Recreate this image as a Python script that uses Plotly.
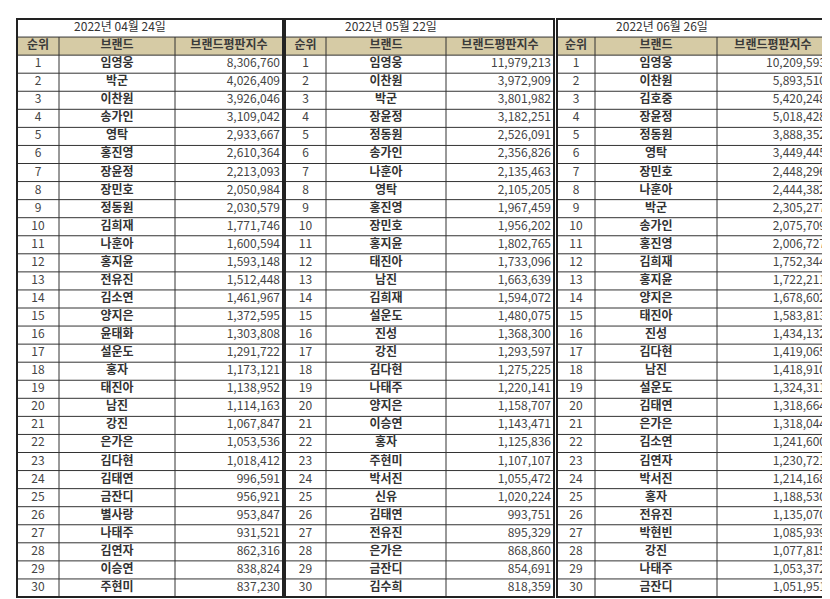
import plotly.graph_objects as go

dates = ["2022년 04월 24일", "2022년 05월 22일", "2022년 06월 26일"]
ranks = list(range(1, 31))
columns = ["순위", "브랜드", "브랜드평판지수"]

brands_0424 = ["임영웅", "박군", "이찬원", "송가인", "영탁", "홍진영", "장윤정", "장민호", "정동원", "김희재",
               "나훈아", "홍지윤", "전유진", "김소연", "양지은", "윤태화", "설운도", "홍자", "태진아", "남진",
               "강진", "은가은", "김다현", "김태연", "금잔디", "별사랑", "나태주", "김연자", "이승연", "주현미"]
scores_0424 = [8306760, 4026409, 3926046, 3109042, 2933667, 2610364, 2213093, 2050984, 2030579, 1771746,
               1600594, 1593148, 1512448, 1461967, 1372595, 1303808, 1291722, 1173121, 1138952, 1114163,
               1067847, 1053536, 1018412, 996591, 956921, 953847, 931521, 862316, 838824, 837230]

brands_0522 = ["임영웅", "이찬원", "박군", "장윤정", "정동원", "송가인", "나훈아", "영탁", "홍진영", "장민호",
               "홍지윤", "태진아", "남진", "김희재", "설운도", "진성", "강진", "김다현", "나태주", "양지은",
               "이승연", "홍자", "주현미", "박서진", "신유", "김태연", "전유진", "은가은", "금잔디", "김수희"]
scores_0522 = [11979213, 3972909, 3801982, 3182251, 2526091, 2356826, 2135463, 2105205, 1967459, 1956202,
               1802765, 1733096, 1663639, 1594072, 1480075, 1368300, 1293597, 1275225, 1220141, 1158707,
               1143471, 1125836, 1107107, 1055472, 1020224, 993751, 895329, 868860, 854691, 818359]

brands_0626 = ["임영웅", "이찬원", "김호중", "장윤정", "정동원", "영탁", "장민호", "나훈아", "박군", "송가인",
               "홍진영", "김희재", "홍지윤", "양지은", "태진아", "진성", "김다현", "남진", "설운도", "김태연",
               "은가은", "김소연", "김연자", "박서진", "홍자", "전유진", "박현빈", "강진", "나태주", "금잔디"]
scores_0626 = [10209593, 5893510, 5420248, 5018428, 3888352, 3449445, 2448296, 2444382, 2305277, 2075709,
               2006727, 1752344, 1722211, 1678602, 1583813, 1434132, 1419065, 1418910, 1324311, 1318664,
               1318044, 1241600, 1230721, 1214168, 1188530, 1135070, 1085939, 1077815, 1053372, 1051951]

W, H = 830, 599
# column edges of each table in pixels, and centre of the date label
blocks = [
    (brands_0424, scores_0424, [9, 51, 167, 275], 112),
    (brands_0522, scores_0522, [277, 318, 438, 546], 383),
    (brands_0626, scores_0626, [549, 587, 709, 821], 654),
]
font = "Noto Sans CJK KR, Noto Sans, sans-serif"
line_c = "#333333"

fig = go.Figure()
for (brands, scores, xe, dx), date in zip(blocks, dates):
    # header fill
    fig.add_shape(type="rect", x0=xe[0], x1=xe[3], y0=-0.5, y1=0.5,
                  fillcolor="#d6cba5", line_width=0, layer="below")
    # horizontal lines
    for k in range(-1, 31):
        fig.add_shape(type="line", x0=xe[0], x1=xe[3], y0=k + 0.5, y1=k + 0.5,
                      line=dict(color=line_c, width=1))
    # vertical inner lines
    for xv in xe[1:3]:
        fig.add_shape(type="line", x0=xv, x1=xv, y0=-0.5, y1=30.5, line=dict(color=line_c, width=1))
    # outer border
    fig.add_shape(type="rect", x0=xe[0], x1=xe[3], y0=-1.5, y1=30.5,
                  line=dict(color="#222222", width=2))

    fig.add_trace(go.Scatter(x=[dx], y=[-1], mode="text", text=[date],
                             textfont=dict(family=font, size=12, color=line_c)))
    fig.add_trace(go.Scatter(x=[(xe[0] + xe[1]) / 2, (xe[1] + xe[2]) / 2, (xe[2] + xe[3]) / 2],
                             y=[0, 0, 0], mode="text", text=columns,
                             textfont=dict(family=font, size=12, color="#3a3a3a", weight="bold")))
    fig.add_trace(go.Scatter(x=[(xe[0] + xe[1]) / 2] * 30, y=ranks, mode="text",
                             text=[str(r) for r in ranks],
                             textfont=dict(family=font, size=12, color="#444444")))
    fig.add_trace(go.Scatter(x=[(xe[1] + xe[2]) / 2] * 30, y=ranks, mode="text", text=brands,
                             textfont=dict(family=font, size=12, color="#333333", weight="bold")))
    fig.add_trace(go.Scatter(x=[xe[3] - 3] * 30, y=ranks, mode="text",
                             text=[f"{s:,}" for s in scores], textposition="middle left",
                             textfont=dict(family=font, size=12, color="#444444")))

row_px = (589 - 11) / 32
fig.update_xaxes(range=[0, W], visible=False)
fig.update_yaxes(range=[30.5 + (H - 589) / row_px, -1.5 - 11 / row_px], visible=False)
fig.update_layout(width=W, height=H, margin=dict(l=0, r=0, t=0, b=0), showlegend=False,
                  paper_bgcolor="white", plot_bgcolor="white", hovermode=False)
fig.write_html("out.html")
